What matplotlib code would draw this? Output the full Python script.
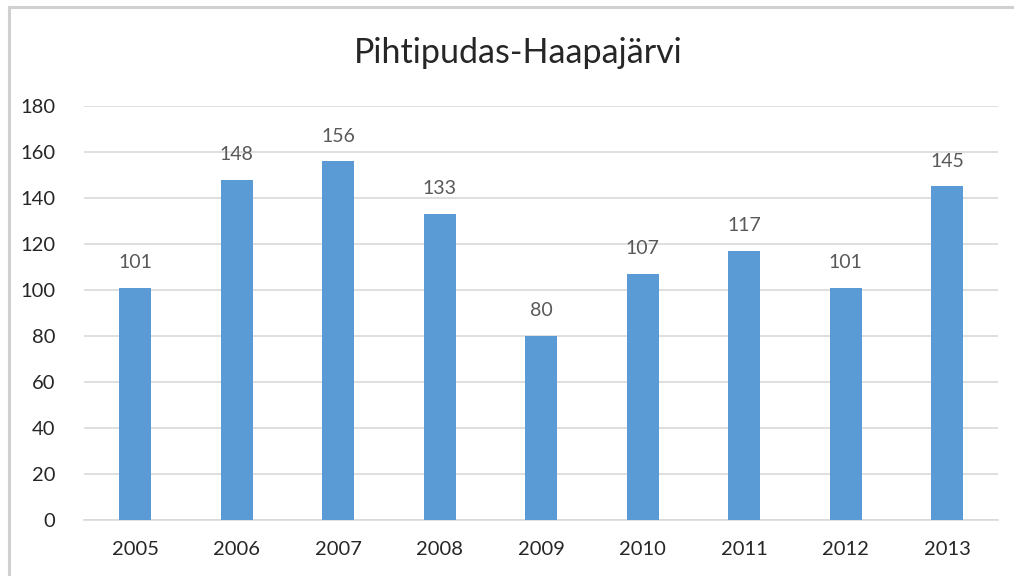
import matplotlib
matplotlib.use("Agg")
import matplotlib.pyplot as plt
from matplotlib.lines import Line2D

years = ["2005", "2006", "2007", "2008", "2009", "2010", "2011", "2012", "2013"]
values = [101, 148, 156, 133, 80, 107, 117, 101, 145]
yticks = [0, 20, 40, 60, 80, 100, 120, 140, 160, 180]
title = "Pihtipudas-Haapajärvi"

plt.rcParams['font.family'] = ['Lato', 'DejaVu Sans']

fig = plt.figure(figsize=(10.14, 5.76), dpi=100)
ax = fig.add_axes([0.0831, 0.0972, 0.9011, 0.7188])

x = range(len(years))
bars = ax.bar(x, values, width=0.315, color="#5B9BD5", zorder=3)
ax.set_xlim(-0.5, len(years) - 0.5)
ax.set_ylim(0, 180)
ax.set_yticks(yticks)
ax.set_xticks(list(x))
ax.set_xticklabels(years)
ax.grid(axis="y", color="#D9D9D9", linewidth=1.2, zorder=0)
for s in ["top", "right", "left"]:
    ax.spines[s].set_visible(False)
ax.spines["bottom"].set_color("#D9D9D9")
ax.spines["bottom"].set_linewidth(1.2)
ax.tick_params(axis="both", length=0, labelsize=14.5, colors="#262626")
ax.tick_params(axis="y", pad=21)
ax.tick_params(axis="x", pad=15)

for xi, v in zip(x, values):
    ax.annotate(str(v), (xi, v), xytext=(0, 12), textcoords="offset points",
                ha="center", va="bottom", fontsize=14, color="#595959")

fig.text(0.511, 0.908, title, ha="center", va="center", fontsize=24.5, color="#262626")

fig.add_artist(Line2D([0.0089, 1.0], [0.987, 0.987], transform=fig.transFigure,
                      color="#D0D0D0", linewidth=2.2))
fig.add_artist(Line2D([0.0089, 0.0089], [0.0, 0.987], transform=fig.transFigure,
                      color="#D0D0D0", linewidth=2.2))

fig.savefig("out.png", dpi=100)
